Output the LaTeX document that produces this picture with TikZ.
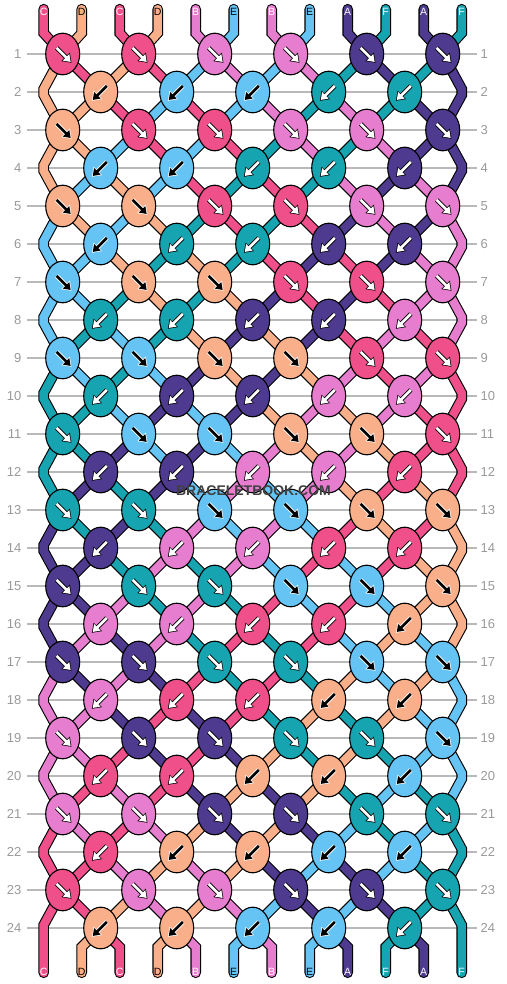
\documentclass[tikz,border=0pt]{standalone}
\usepackage{fontspec}
\setmainfont{Liberation Sans}
\usetikzlibrary{arrows.meta,shapes.geometric}
\definecolor{colC}{HTML}{F0508A}
\definecolor{colD}{HTML}{F9B08A}
\definecolor{colB}{HTML}{E67DCE}
\definecolor{colE}{HTML}{66C4F5}
\definecolor{colA}{HTML}{4E3A8E}
\definecolor{colF}{HTML}{16A4B0}
% arrow and letter colours: white on dark threads, black on light ones
\colorlet{txtC}{white}\colorlet{rimC}{black}
\colorlet{txtD}{black}\colorlet{rimD}{white}
\colorlet{txtB}{white}\colorlet{rimB}{black}
\colorlet{txtE}{black}\colorlet{rimE}{white}
\colorlet{txtA}{white}\colorlet{rimA}{black}
\colorlet{txtF}{white}\colorlet{rimF}{black}

% #1 column, #2 row, #3 thread letter
\newcommand{\drawknot}[3]{%
  \node[knot,fill=col#3] (k#2-#1) at (g#2-#1) {};
  \ifodd#2
    \draw[knotrim,draw=rim#3] ([shift={(-0.16,-0.16)}]k#2-#1.center) -- ([shift={(0.21,0.21)}]k#2-#1.center);
    \draw[knotarrow,draw=txt#3] ([shift={(-0.16,-0.16)}]k#2-#1.center) -- ([shift={(0.21,0.21)}]k#2-#1.center);
  \else
    \draw[knotrim,draw=rim#3] ([shift={(0.16,-0.16)}]k#2-#1.center) -- ([shift={(-0.21,0.21)}]k#2-#1.center);
    \draw[knotarrow,draw=txt#3] ([shift={(0.16,-0.16)}]k#2-#1.center) -- ([shift={(-0.21,0.21)}]k#2-#1.center);
  \fi}

\begin{document}
\begin{tikzpicture}[x=38pt,y=-38pt,
 rowline/.style={draw=gray!55,line width=1.2pt},
 rownum/.style={text=gray!80,inner sep=0pt,font=\fontsize{13}{13}\selectfont},
 thread/.style={line cap=round,line join=miter},
 threadlab/.style={inner sep=0pt,font=\fontsize{10.5}{10.5}\selectfont},
 knot/.style={ellipse,draw=black,line width=1.1pt,minimum width=34pt,minimum height=41.6pt,inner sep=0pt},
 knotrim/.style={line width=4.4pt,shorten >=-1.2pt,-{Triangle[length=8.4pt,width=11.4pt]}},
 knotarrow/.style={line width=2.6pt,-{Triangle[length=6.6pt,width=8.8pt]}},
 brand/.style={font=\fontsize{14}{14}\selectfont\bfseries,inner sep=0pt}]
\useasboundingbox (-1.65,-0.421) rectangle (11.666,25.474);

% grid points
\foreach \r in {1,...,24} {
  \foreach \c in {0,...,10} \coordinate (g\r-\c) at (\c,\r);
  \coordinate (g\r-La) at (-0.5,\r-0.08);
  \coordinate (g\r-Lb) at (-0.5,\r+0.08);
  \coordinate (g\r-Ra) at (10.5,\r-0.08);
  \coordinate (g\r-Rb) at (10.5,\r+0.08);
  \draw[rowline] (-0.94,\r) -- (10.9,\r);
  \node[rownum,anchor=east] (nl\r) at (-1.084,\r) {\r};
  \node[rownum,anchor=west] (nr\r) at (10.995,\r) {\r};
}
\foreach \p in {0,...,11} {
  \coordinate (top\p) at (\p-0.5,-0.18);
  \coordinate (tbend\p) at (\p-0.5,0.45);
  \coordinate (bbend\p) at (\p-0.5,24.5);
  \coordinate (bot\p) at (\p-0.5,25.18);
}

% threads, followed row by row
\gdef\knotcmds{}
\foreach \p/\thr in {0/C,1/D,2/C,3/D,4/B,5/E,6/B,7/E,8/A,9/F,10/A,11/F} {
  \xdef\pos{\p}
  \xdef\pth{(top\p) -- (tbend\p)}
  \foreach \r in {1,...,24} {
    \ifodd\r
      \pgfmathtruncatemacro\cx{\pos-mod(\pos,2)}
      \pgfmathtruncatemacro\np{\pos+1-2*mod(\pos,2)}
      \xdef\pth{\pth -- (g\r-\cx)}
      \ifodd\pos\else\xdef\knotcmds{\unexpanded\expandafter{\knotcmds}\noexpand\drawknot{\cx}{\r}{\thr}}\fi
      \xdef\pos{\np}
    \else
      \ifnum\pos=0
        \xdef\pth{\pth -- (g\r-La) -- (g\r-Lb)}
      \else\ifnum\pos=11
        \xdef\pth{\pth -- (g\r-Ra) -- (g\r-Rb)}
      \else
        \pgfmathtruncatemacro\cx{\pos-mod(\pos+1,2)}
        \pgfmathtruncatemacro\np{\pos+2*mod(\pos,2)-1}
        \xdef\pth{\pth -- (g\r-\cx)}
        \ifodd\pos\else\xdef\knotcmds{\unexpanded\expandafter{\knotcmds}\noexpand\drawknot{\cx}{\r}{\thr}}\fi
        \xdef\pos{\np}
      \fi\fi
    \fi
  }
  \xdef\pth{\pth -- (bbend\pos) -- (bot\pos)}
  \draw[thread,draw=black,line width=10.6pt] \pth;
  \draw[thread,draw=col\thr,line width=8.4pt] \pth;
  \node[threadlab,text=txt\thr] (lt\p) at (\p-0.5,-0.105) {\thr};
  \node[threadlab,text=txt\thr] (lb\pos) at (\pos-0.5,25.16) {\thr};
}

% knots on top
\knotcmds

\node[brand,text=black!75] (brandname) at (5.02,12.5) {BRACELETBOOK.COM};
\end{tikzpicture}
\end{document}
